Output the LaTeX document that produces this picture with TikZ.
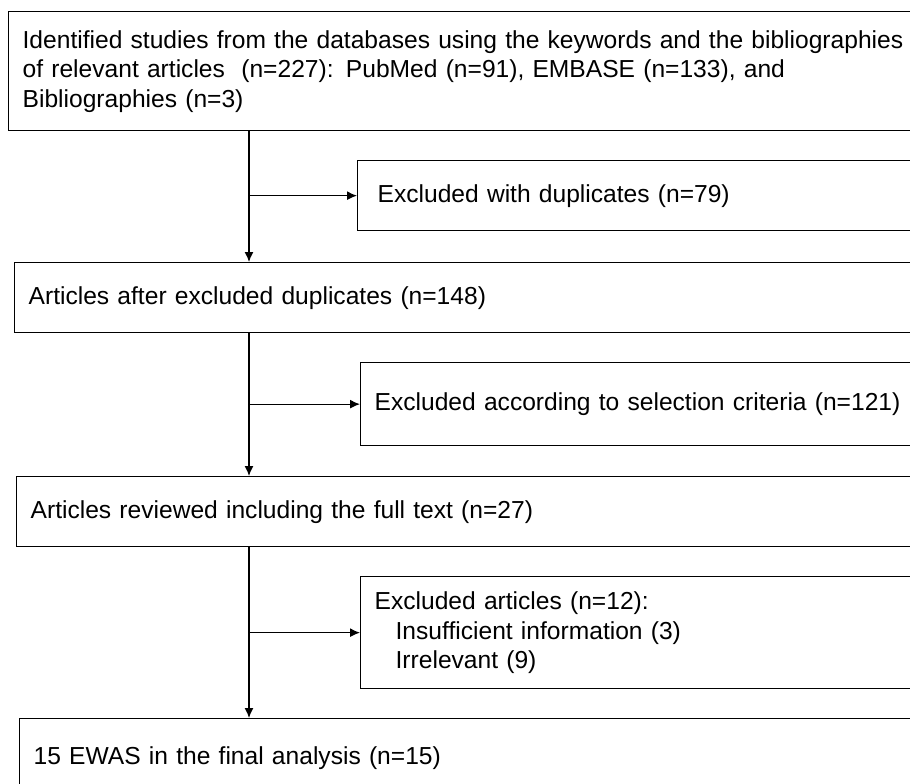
\documentclass[tikz,border=0pt]{standalone}
\usepackage{fontspec}
\setmainfont{Liberation Sans}
\usetikzlibrary{arrows.meta}
\begin{document}
\begin{tikzpicture}[x=1pt,y=-1pt,
  box/.style={draw, line width=1.3pt, rectangle, anchor=north west, inner xsep=14pt, inner ysep=0pt, align=left, font=\fontsize{24.6}{29.5}\selectfont},
  conn/.style={line width=1.3pt},
  arr/.style={conn, -{Latex[length=10pt,width=9pt]}}]
\useasboundingbox (0,0) rectangle (910,784);
\clip (0,0) rectangle (910,784);
\node[box, text width=899pt, minimum height=119pt] (b1) at (8,11)
  {Identified studies from the databases using the keywords and the bibliographies\\
   of relevant articles\ \ (n=227): PubMed (n=91), EMBASE (n=133), and\\
   Bibliographies (n=3)};
\node[box, inner xsep=20pt, text width=538pt, minimum height=70pt] (b2) at (357,160)
  {Excluded with duplicates (n=79)};
\node[box, text width=893pt, minimum height=70pt] (b3) at (14,262)
  {Articles after excluded duplicates (n=148)};
\node[box, text width=547pt, minimum height=83pt] (b4) at (360,362)
  {Excluded according to selection criteria (n=121)};
\node[box, text width=891pt, minimum height=70pt] (b5) at (16,476)
  {Articles reviewed including the full text (n=27)};
\node[box, text width=547pt, minimum height=112pt] (b6) at (360,576)
  {Excluded articles (n=12):\\
   \hspace*{21pt}Insufficient information (3)\\
   \hspace*{21pt}Irrelevant (9)};
\node[box, text width=888pt, minimum height=78pt] (b7) at (19,718)
  {15 EWAS in the final analysis (n=15)};
\coordinate (sp) at (249,0);
\draw[arr] (sp |- b1.south) -- (sp |- b3.north);
\draw[arr] (sp |- b2.west) -- (b2.west);
\draw[arr] (sp |- b3.south) -- (sp |- b5.north);
\draw[arr] (sp |- b4.west) -- (b4.west);
\draw[arr] (sp |- b5.south) -- (sp |- b7.north);
\draw[arr] (sp |- b6.west) -- (b6.west);
\end{tikzpicture}
\end{document}
